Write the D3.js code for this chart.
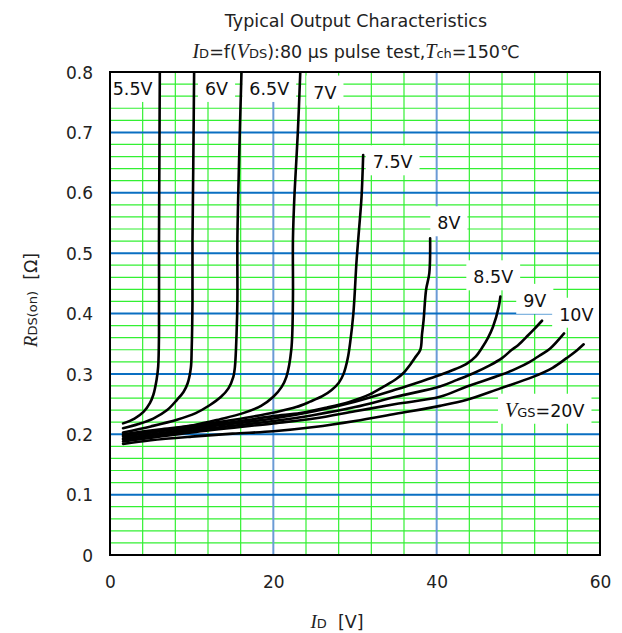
<!DOCTYPE html>
<html><head><meta charset="utf-8">
<script src="https://cdn.jsdelivr.net/npm/d3@7"></script>
<style>body{margin:0;background:#fff}</style>
</head><body>
<svg id="chart" width="622" height="633"></svg>
<script>
// ---------- data ----------
const xTickValues = [0, 20, 40, 60];
const yTickValues = [0, 0.1, 0.2, 0.3, 0.4, 0.5, 0.6, 0.7, 0.8];
const seriesNames = ["5.5V", "6V", "6.5V", "7V", "7.5V", "8V", "8.5V", "9V", "10V", "20V"];
// [I_D, R_DS(on)]
const vgs5_5 = [[1.6,0.218],[3.0,0.226],[4.1,0.237],[4.9,0.252],[5.3,0.265],[5.7,0.290],[5.9,0.312],[6.0,0.367],[6.0,0.52],[6.05,0.66],[6.1,0.80]];
const vgs6   = [[1.6,0.210],[3.5,0.217],[5.3,0.226],[7.0,0.240],[8.2,0.257],[9.0,0.270],[9.5,0.284],[9.9,0.31],[10.0,0.34],[10.1,0.42],[10.1,0.52],[10.2,0.65],[10.3,0.80]];
const vgs6_5 = [[1.6,0.203],[5.0,0.213],[8.2,0.224],[10.5,0.235],[12.2,0.248],[13.6,0.262],[14.5,0.276],[15.1,0.295],[15.3,0.312],[15.5,0.367],[15.6,0.422],[15.6,0.522],[15.8,0.65],[16.1,0.80]];
const vgs7   = [[1.6,0.200],[6.0,0.208],[10.2,0.215],[13.5,0.225],[16.3,0.235],[18.5,0.247],[20.0,0.262],[21.0,0.278],[21.6,0.295],[22.2,0.34],[22.4,0.422],[22.4,0.522],[22.6,0.60],[23.0,0.70],[23.3,0.80]];
const vgs7_5 = [[1.6,0.198],[7.0,0.208],[12.2,0.218],[16.5,0.227],[20.4,0.237],[22.8,0.245],[24.5,0.254],[26.0,0.263],[27.1,0.273],[28.0,0.285],[28.6,0.300],[29.1,0.325],[29.4,0.351],[29.8,0.40],[30.2,0.489],[30.5,0.54],[30.8,0.593],[31.0,0.6625]];
const vgs8   = [[1.6,0.196],[10.0,0.212],[16.0,0.222],[20.0,0.230],[23.3,0.235],[26.5,0.244],[29.4,0.254],[31.8,0.266],[33.5,0.279],[35.0,0.291],[35.9,0.301],[36.8,0.316],[37.3,0.326],[38.0,0.340],[38.2,0.365],[38.4,0.389],[38.7,0.439],[39.1,0.467],[39.2,0.5245]];
const vgs8_5 = [[1.6,0.193],[10.0,0.209],[20.0,0.226],[25.0,0.238],[30.0,0.254],[35.0,0.274],[38.0,0.287],[40.4,0.298],[42.3,0.308],[43.7,0.317],[44.8,0.329],[45.5,0.342],[46.3,0.360],[46.9,0.378],[47.6,0.411],[47.8,0.428]];
const vgs9   = [[1.6,0.191],[10.0,0.206],[20.0,0.222],[25.0,0.232],[30.0,0.245],[35.0,0.262],[40.4,0.279],[42.5,0.290],[44.5,0.301],[46.5,0.314],[48.0,0.326],[49.2,0.340],[50.0,0.348],[51.2,0.364],[52.0,0.375],[52.9,0.388]];
const vgs10  = [[1.6,0.188],[10.0,0.203],[20.0,0.218],[25.0,0.226],[30.0,0.238],[35.0,0.250],[40.4,0.262],[43.7,0.279],[47.8,0.298],[49.8,0.309],[51.4,0.320],[52.8,0.332],[53.9,0.342],[55.6,0.367]];
const vgs20  = [[1.6,0.184],[5.0,0.190],[10.0,0.196],[15.0,0.201],[20.0,0.205],[25.0,0.212],[30.0,0.222],[35.0,0.234],[40.4,0.247],[43.7,0.257],[47.8,0.276],[51.8,0.295],[54.2,0.310],[55.9,0.326],[57.0,0.337],[58.0,0.349]];
const seriesValues = [vgs5_5, vgs6, vgs6_5, vgs7, vgs7_5, vgs8, vgs8_5, vgs9, vgs10, vgs20];

// curve labels: anchor (I_D, R) in data units
const labelTexts = ["5.5V", "6V", "6.5V", "7V", "7.5V", "8V", "8.5V", "9V", "10V", "VGS=20V"];
const labelAnchors = [[0.33,0.762],[11.63,0.762],[17.06,0.762],[24.9,0.756],[32.17,0.6405],[40.08,0.5395],[44.49,0.450],[50.6,0.411],[55.0,0.388],[48.37,0.229]];

// ---------- layout ----------
const W = 622, H = 633;
const M = {left: 110, right: 600, top: 72, bottom: 555};
const svg = d3.select("#chart");
const x = d3.scaleLinear().domain([0, 60]).range([M.left, M.right]);
const y = d3.scaleLinear().domain([0, 0.8]).range([M.bottom, M.top]);
const SANS = "'DejaVu Sans', Verdana, sans-serif";
const SERIF = "'Liberation Serif', 'Times New Roman', serif";

svg.append("rect").attr("width", W).attr("height", H).attr("fill", "#fff");

svg.append("defs").append("clipPath").attr("id", "plotclip")
  .append("rect").attr("x", M.left).attr("y", M.top)
  .attr("width", M.right - M.left).attr("height", M.bottom - M.top);

const grid = svg.append("g");
// minor vertical (green)
const xMinor = d3.range(4, 60, 4).filter(v => v % 20 !== 0);
grid.selectAll(".vx").data(xMinor).join("line")
  .attr("x1", d => x(d)).attr("x2", d => x(d))
  .attr("y1", M.top).attr("y2", M.bottom)
  .attr("stroke", "#33f033").attr("stroke-width", 1.2);
// minor horizontal (green)
const yMinor = d3.range(1, 40).map(i => i * 0.02).filter((v, i) => (i + 1) % 5 !== 0);
grid.selectAll(".hy").data(yMinor).join("line")
  .attr("x1", M.left).attr("x2", M.right)
  .attr("y1", d => y(d)).attr("y2", d => y(d))
  .attr("stroke", "#33f033").attr("stroke-width", 1.2);
// major vertical (light blue)
grid.selectAll(".vX").data([20, 40]).join("line")
  .attr("x1", d => x(d)).attr("x2", d => x(d))
  .attr("y1", M.top).attr("y2", M.bottom)
  .attr("stroke", "#6b9bd6").attr("stroke-width", 2);
// major horizontal (blue)
grid.selectAll(".hY").data(yTickValues.slice(1, -1)).join("line")
  .attr("x1", M.left).attr("x2", M.right)
  .attr("y1", d => y(d)).attr("y2", d => y(d))
  .attr("stroke", "#0a6fc2").attr("stroke-width", 2);

// label boxes + text
const labelsG = svg.append("g").attr("clip-path", "url(#plotclip)");
const fsLab = 17.5;
labelTexts.forEach((t, i) => {
  const [lx, ly] = labelAnchors[i];
  const g = labelsG.append("g");
  const box = g.append("rect").attr("fill", "#fff");
  const txt = g.append("text").attr("x", x(lx)).attr("y", y(ly))
    .attr("font-family", SANS).attr("font-size", fsLab).attr("fill", "#111");
  if (t.startsWith("VGS")) {
    txt.append("tspan").attr("font-family", SERIF).attr("font-style", "italic").attr("font-size", 20).text("V");
    txt.append("tspan").attr("font-size", 13).text("GS");
    txt.append("tspan").text("=20V");
  } else {
    txt.text(t);
  }
  const w = txt.node().getComputedTextLength();
  box.attr("x", x(lx) - 7).attr("y", y(ly) - 23).attr("width", w + 14).attr("height", 30);
});

// curves
const line = d3.line().x(d => x(d[0])).y(d => y(d[1])).curve(d3.curveCatmullRom.alpha(0.5));
svg.append("g").attr("clip-path", "url(#plotclip)")
  .selectAll("path").data(seriesValues).join("path")
  .attr("d", line).attr("fill", "none").attr("stroke", "#000")
  .attr("stroke-width", 2.6).attr("stroke-linejoin", "round").attr("stroke-linecap", "round");

// frame
svg.append("rect").attr("x", M.left).attr("y", M.top)
  .attr("width", M.right - M.left).attr("height", M.bottom - M.top)
  .attr("fill", "none").attr("stroke", "#000").attr("stroke-width", 2);

// axes tick labels
const xAxis = d3.axisBottom(x).tickValues(xTickValues).tickSize(0).tickPadding(0).tickFormat(d3.format("d"));
const gx = svg.append("g").attr("transform", `translate(0,${M.bottom})`).call(xAxis);
gx.select(".domain").remove();
gx.selectAll("text").attr("font-family", SANS).attr("font-size", 17).attr("fill", "#222")
  .attr("dy", null).attr("y", 33);

const yAxis = d3.axisLeft(y).tickValues(yTickValues).tickSize(0).tickPadding(0)
  .tickFormat(d => d === 0 ? "0" : d3.format(".1f")(d));
const gy = svg.append("g").attr("transform", `translate(${93},0)`).call(yAxis);
gy.select(".domain").remove();
gy.selectAll("text").attr("font-family", SANS).attr("font-size", 17).attr("fill", "#222")
  .attr("dy", "0.36em");

// title
svg.append("text").attr("x", 356).attr("y", 27).attr("text-anchor", "middle")
  .attr("font-family", SANS).attr("font-size", 17.5).attr("fill", "#222")
  .text("Typical Output Characteristics");

const sub = svg.append("text").attr("x", 356).attr("y", 58).attr("text-anchor", "middle")
  .attr("font-family", SANS).attr("font-size", 17.5).attr("fill", "#222");
sub.append("tspan").attr("font-family", SERIF).attr("font-style", "italic").attr("font-size", 20).text("I");
sub.append("tspan").attr("font-size", 13).text("D");
sub.append("tspan").text("=f(");
sub.append("tspan").attr("font-family", SERIF).attr("font-style", "italic").attr("font-size", 20).text("V");
sub.append("tspan").attr("font-size", 13).text("DS");
sub.append("tspan").text("):80 μs pulse test,");
sub.append("tspan").attr("font-family", SERIF).attr("font-style", "italic").attr("font-size", 20).text("T");
sub.append("tspan").attr("font-size", 13).text("ch");
sub.append("tspan").text("=150℃");

// axis titles
const xl = svg.append("text").attr("x", 337).attr("y", 628).attr("text-anchor", "middle")
  .attr("font-family", SANS).attr("font-size", 17.5).attr("fill", "#222")
  .style("white-space", "pre");
xl.append("tspan").attr("font-family", SERIF).attr("font-style", "italic").attr("font-size", 19).text("I");
xl.append("tspan").attr("font-size", 13).text("D");
xl.append("tspan").text("  [V]");

const yl = svg.append("text").attr("transform", "translate(37,300) rotate(-90)").attr("text-anchor", "middle")
  .attr("font-family", SANS).attr("font-size", 17.5).attr("fill", "#222")
  .style("white-space", "pre");
yl.append("tspan").attr("font-family", SERIF).attr("font-style", "italic").attr("font-size", 19).text("R");
yl.append("tspan").attr("font-size", 13).text("DS(on)");
yl.append("tspan").text("  [Ω]");
</script>
</body></html>
